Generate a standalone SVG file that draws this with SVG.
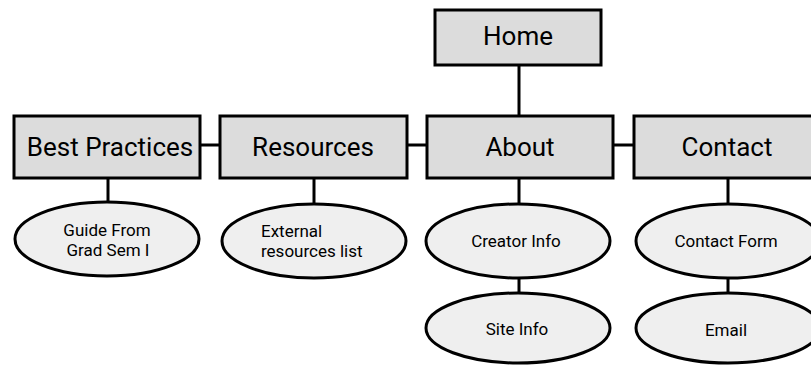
<svg xmlns="http://www.w3.org/2000/svg" width="811" height="365" viewBox="0 0 811 365">
<style>
.box{fill:#dcdcdc;stroke:#000;stroke-width:3}
.ell{fill:#efefef;stroke:#000;stroke-width:3}
.c{stroke:#000;stroke-width:3;fill:none}
.bt{font-family:Roboto,"Liberation Sans",sans-serif;font-size:26px;fill:#000;text-anchor:middle}
.et{font-family:Roboto,"Liberation Sans",sans-serif;font-size:17px;fill:#000;text-anchor:middle}
</style>
<rect width="811" height="365" fill="#fff"/>
<g id="connectors">
<line class="c" x1="519" y1="65" x2="519" y2="116"/>
<line class="c" x1="200" y1="145" x2="220" y2="145"/>
<line class="c" x1="407" y1="145" x2="427" y2="145"/>
<line class="c" x1="613" y1="145" x2="634" y2="145"/>
<line class="c" x1="108" y1="178" x2="108" y2="202"/>
<line class="c" x1="314" y1="178" x2="314" y2="204"/>
<line class="c" x1="519" y1="178" x2="519" y2="203"/>
<line class="c" x1="728" y1="178" x2="728" y2="203"/>
<line class="c" x1="519" y1="278" x2="519" y2="293"/>
<line class="c" x1="728" y1="278" x2="728" y2="293"/>
</g>
<g id="home"><rect class="box" x="435" y="10" width="166" height="55"/><text class="bt" x="518" y="45">Home</text></g>
<g id="best-practices"><rect class="box" x="14" y="116" width="186" height="62"/><text class="bt" x="110" y="156">Best Practices</text></g>
<g id="resources"><rect class="box" x="220" y="116" width="187" height="62"/><text class="bt" x="313" y="156">Resources</text></g>
<g id="about"><rect class="box" x="427" y="116" width="186" height="62"/><text class="bt" x="520" y="156">About</text></g>
<g id="contact"><rect class="box" x="634" y="116" width="186" height="62"/><text class="bt" x="727" y="156">Contact</text></g>
<g id="guide"><ellipse class="ell" cx="107" cy="239" rx="92" ry="37"/><text class="et" x="107" y="236">Guide From</text><text class="et" x="108" y="256">Grad Sem I</text></g>
<g id="external"><ellipse class="ell" cx="314" cy="241" rx="92" ry="37"/><text class="et" x="261" y="237" style="text-anchor:start">External</text><text class="et" x="261" y="257" style="text-anchor:start">resources list</text></g>
<g id="creator-info"><ellipse class="ell" cx="518" cy="241" rx="92" ry="37"/><text class="et" x="516" y="247">Creator Info</text></g>
<g id="site-info"><ellipse class="ell" cx="518" cy="328" rx="92" ry="35"/><text class="et" x="517" y="335">Site Info</text></g>
<g id="contact-form"><ellipse class="ell" cx="728" cy="241" rx="92" ry="37"/><text class="et" x="726" y="247">Contact Form</text></g>
<g id="email"><ellipse class="ell" cx="728" cy="328" rx="92" ry="35"/><text class="et" x="726" y="336">Email</text></g>
</svg>
